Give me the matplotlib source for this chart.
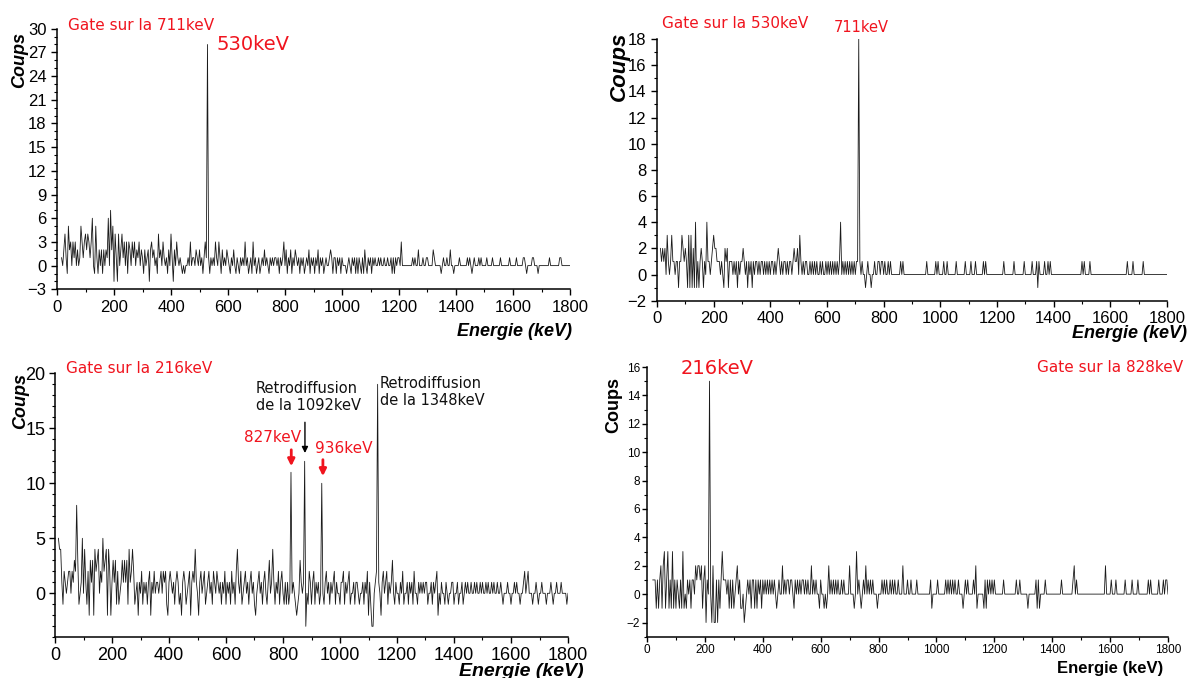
import numpy as np
import matplotlib
matplotlib.use("Agg")
import matplotlib.pyplot as plt
from matplotlib.ticker import MultipleLocator

plt.rcParams['font.family'] = ['Liberation Sans', 'DejaVu Sans']

STEP = 4  # keV per channel

# ---------------- Gate sur la 711keV (top left) ----------------
p1_start = 16
p1_dense = [
    1, 0, 2, 4, 1, -1, 5, 2, 3, 0, 3, 1, 3, 0, 2, 0, 1, 5, 3, 1, 3, 4, 2, 4, 3, 1, 3,      # 16-120
    6, 0, -1, 5, 1, -1, 2, 0, 2, -1, 2, 0, 2, 1, 6, 0, 7, 2, 5, -2, 4, 1, -2, 4, 0, 2, 4, 1, 3, 0,   # 124-240
    3, -1, 3, 2, 0, 3, 1, 3, 0, 2, 1, 3, 0, 2, 1, -1, 2, 0, 1, 2, -2, 2, 3, 1, 2, 0, 1, -1, 4, 1,   # 244-360
    2, 0, 3, 1, 0, 1, -1, 2, 0, 4, 1, -2, 2, 0, 3, 1, 0, 1, 0, -1, 0, -1, 0, 0, 1, 0, 3, 0, 1, 1,   # 364-480
    0, 2, 1, 0, 2, 0, 1, -1, 1, 3, 1, 28, 1, -1, 1, 0, 1, 0, 3, 1, 0, 3, 1, -1, 2, 0, 1, 0, 2, 1,   # 484-600
    0, -1, 1, 0, 2, 0, -1, 1, 0, -1, 1, 0, 1, 0, 3, 0, 1, -1, 0, 1, -1, 3, 0, 1, -1, 0, 1, -1, 0, 1,  # 604-720
    0, 2, 0, 1, 0, -1, 1, 0, 1, 0, 1, 1, 0, 1, -1, 1, 0, 1, 3, 0, 2, -1, 1, 0, 2, -1, 1, 0, 2, 1,   # 724-840
    0, 1, -1, 1, 0, 1, -1, 0, 1, 0, 2, -1, 1, 0, 1, -1, 1, 0, 2, -1, 1, 0, 1, -1, 0, 1, 0, 0, 1, 2,  # 844-960
    1, -1, 1, 1, -1, 1, 0, 1, -1, 1, 0, 0, 0, -1, 0, 1, 0, -1, 1, 0, 1, -1, 1, -1, 1, 0, -1, 1, -1, 2,  # 964-1080
    0, -1, 1, 0, 1, -1, 1, 0, 1, 0, 0, 1, 0, 1, 0, 0, 1, 0, 0, 1, 0, 0, 1, -1, 1, -1, 1, 0, 1, 1,   # 1084-1200
    0, 3, 0,                                                                                        # 1204-1212
]
p1_tail_kev = [1248, 1256, 1268, 1284, 1296, 1300, 1320, 1324, 1348, 1356, 1368, 1380, 1392, 1412,
               1440, 1448, 1456, 1464, 1480, 1488, 1508, 1528, 1556, 1588, 1612, 1636, 1640, 1648,
               1668, 1672, 1688, 1728, 1764, 1768]
p1_tail_cnt = [1, 1, 2, 1, 1, 1, 2, 1, -1, 1, 1, 2, -1, 1,
               1, 1, -1, 1, 1, 1, 1, 1, 1, 1, 1, 1, 1, -1,
               1, 1, -1, 1, 1, 1]

# ---------------- Gate sur la 530keV (top right) ----------------
p2_start = 12
p2_dense = [
    2, 1, 2, 1, 2, 0, 3, 1, 0, 1,      # 12-48
    3, 1, 1, 0, 1, 1, -1, 1, 1, 3,     # 52-88
    2, 1, 2, 1, -1, 3, -1, 3, -1, 2,   # 92-128
    -1, 4, -1, 1, -1, 1, 2, 1, -1, 1,  # 132-168
    0, 4, 1, 1, 0, 1, 2, 3, 2, 2,      # 172-208
    1, 1, 1, 0, 1, 0, -1, 2, 1, 2,     # 212-248
    -1, 1, 1, 1, 0, 1, 0, 1, -1, 1,    # 252-288
    0, 1, 1, 2, 1, 0, 1, -1, 1, 0,     # 292-328
    1, -1, 1, 0, 1, 1, 0, 1, 0, 1,     # 332-368
    1, 0, 1, 0, 1, 0, 1, 0, 1, 1,      # 372-408
    0, 1, 0, 1, 2, 1, 0, 1, 0, 1,      # 412-448
    1, 0, 1, 0, 1, 1, 0, 1, 2, 1,      # 452-488
    1, 2, 0, 3, 1, 0, 1, 0, 1, 1,      # 492-528
    0, 0, 1, 0, 1, 0, 1, 0, 1, 0,      # 532-568
    0, 1, 0, 1, 0, 0, 1, 0, 1, 0,      # 572-608
    1, 0, 1, 0, 1, 0, 1, 0, 1, 4,      # 612-648
    0, 1, 0, 1, 0, 1, 0, 1, 0, 1,      # 652-688
    0, 1, 0, 1, 1, 18, 1, 0, 1, 0,     # 692-728
    0, -1, 0, 1, 0, 0, -1, 0, 0, 1,    # 732-768
    0, 0, 1, 1, 0, 1, 1, 0, 1, 0,      # 772-808
    0, 1, 0, 1, 0, 0, 0, 0, 0, 0,      # 812-848
    0, 0, 1, 0, 1, 0, 0, 0,            # 852-880
]
p2_tail_kev = [952, 984, 992, 1012, 1024, 1056, 1088, 1108, 1124, 1152, 1160, 1224, 1260, 1296,
               1324, 1340, 1344, 1348, 1368, 1380, 1388, 1500, 1508, 1528, 1660, 1680, 1716]
p2_tail_cnt = [1, 1, 1, 1, 1, 1, 1, 1, 1, 1, 1, 1, 1, 1,
               1, 1, -1, 1, 1, 1, 1, 1, 1, 1, 1, 1, 1]

# ---------------- Gate sur la 216keV (bottom left) ----------------
p3_start = 12
p3_dense = [
    5, 4, 4, 1, -1, 2, 1, 0, 1, 2,       # 12-48
    2, 0, 2, 1, 3, 2, 8, 3, -1, 0,       # 52-88
    1, 5, 0, 4, 1, -1, 2, -2, 3, 1,      # 92-128
    3, -2, 4, 2, 3, 4, 0, 2, 1, 5,       # 132-168
    2, 3, 4, -2, 4, 2, -2, 1, 3, 1,      # 172-208
    3, -1, 2, -1, 0, 1, 3, 1, 3, 1,      # 212-248
    3, -1, 4, 1, 2, 4, 2, -1, 0, 1,      # 252-288
    -2, 1, 0, 2, -1, 1, 0, 1, -1, 1,     # 292-328
    2, -2, 1, 0, 2, 0, 1, 1, 0, 1,       # 332-368
    2, 0, 2, 1, 2, -1, -2, 1, 2, 1,      # 372-408
    0, 1, -1, 1, 2, 1, -1, 0, -2, 1,     # 412-448
    2, 1, -1, 0, 1, 2, -2, 1, 2, 1,      # 452-488
    4, 1, 0, -2, 1, 2, 0, 1, 2, -1,      # 492-528
    0, 1, 2, 0, 1, -1, 2, 1, 0, 2,       # 532-568
    1, 0, 1, -1, 1, 0, 2, -1, 1, 0,      # 572-608
    1, -1, 2, 0, 1, -1, 2, 4, 1, 0,      # 612-648
    2, -1, 0, 1, 2, 0, 1, -1, 1, 2,      # 652-688
    0, 1, -1, -2, 0, 1, 2, 0, 1, -1,     # 692-728
    1, 2, 0, -1, 1, 3, 0, 1, 4, 1,       # 732-768
    -1, 1, 0, 2, -1, 1, 2, 0, -1, 1,     # 772-808
    -1, 1, -1, 0, 11, 0, 1, 0, -1, -2,   # 812-848
    -1, 0, 3, 1, 0, 1, 12, -3, 0, -1,    # 852-888
    2, 1, -1, 1, 2, -1, 1, 0, 1, -1,     # 892-928
    0, 10, 0, -1, 1, 2, 0, 1, -1, 1,     # 932-968
    0, 1, 2, -1, 1, 0, 0, -1, 1, 1,      # 972-1008
    2, -1, 1, 0, 1, 2, -1, 0, 0, 1,      # 1012-1048
    -1, 1, 1, 0, -1, 0, 0, 1, -1, 1,     # 1052-1088
    0, 2, -2, 1, -1, -3, -3, 0, 1, 2,    # 1092-1128
    19, 1, 0, -2, 1, 2, 0, 1, 2, -1,     # 1132-1168
    1, 0, 1, 3, 0, -1, 1, 0, 0, -1,      # 1172-1208
    1, 0, 2, -1, 0, 0, 1, -1, 1, 0,      # 1212-1248
    1, -1, 2, 0, 0, -1, 1, 0, 1, 0,      # 1252-1288
    1, 0, 1, 1, -1, 0, 0, 1, -1, 1,      # 1292-1328
    0, 1, 2, -2, 0, -1, 1, 0, 0, -1,     # 1332-1368
    1, 0, -1, 0, 0, 1, 1, -1, 0, 0,      # 1372-1408
    1, -1, 0, 0, 1, -1, 0, 1, 0, 1,      # 1412-1448
]
p3_tail_kev = [1460, 1472, 1480, 1492, 1500, 1512, 1520, 1532, 1540, 1552, 1564,
               1572, 1588, 1600, 1612, 1620, 1632, 1644, 1648, 1656, 1660, 1676, 1688,
               1696, 1708, 1724, 1740, 1748, 1760, 1776, 1796]
p3_tail_cnt = [1, 1, 1, 1, 1, 1, 1, 1, 1, 1, 1,
               -1, 1, -1, 1, 1, -1, 1, 2, 1, 2, -1, 1,
               -1, 1, -1, 1, -1, 1, 1, -1]

# ---------------- Gate sur la 828keV (bottom right) ----------------
p4_start = 20
p4_dense = [
    1, 1, 1, -1, 1, -1, 1, 2, -1, 2,     # 20-56
    3, -1, 1, 3, -1, 1, -1, 3, -1, 1,    # 60-96
    -1, 1, 0, -1, 1, -1, 3, -1, 0, -1,   # 100-136
    1, 0, 1, -1, 1, 1, 0, 2, 1, 2,       # 140-176
    2, 1, 2, -1, 1, 2, -2, 1, 0, 15,     # 180-216
    0, -2, 2, -2, -2, 1, -2, 1, -1, 1,   # 220-256
    3, 1, 1, 1, 0, 1, -1, 1, -1, 1,      # 260-296
    -1, 0, 1, 2, 0, 1, -1, -1, 0, -2,    # 300-336
    -1, 0, 1, 0, 1, -1, 1, 1, -1, 1,     # 340-376
    -1, 1, 0, 1, -1, 1, 0, 1, 0, 1,      # 380-416
]
p4_tail_kev = [424, 432, 440, 448, 456, 468, 476, 484, 488, 496, 500, 508, 512, 520, 528, 536,
               540, 548, 556, 568, 576, 584, 596, 600, 612, 620, 628, 636, 644, 652, 660, 672,
               680, 700, 716, 724, 732, 740, 748, 756, 764, 772, 780, 796, 812, 820, 828, 840,
               848, 856, 868, 884, 900, 912, 932, 980, 984, 1004, 1032, 1040, 1048, 1056, 1064,
               1076, 1092, 1100, 1108, 1128, 1136, 1140, 1164, 1168, 1172, 1176, 1184, 1192, 1200,
               1232, 1276, 1288, 1316, 1344, 1348, 1352, 1356, 1376, 1432, 1472, 1476, 1484, 1584,
               1604, 1620, 1652, 1676, 1696, 1732, 1740, 1768, 1784, 1792, 1796]
p4_tail_cnt = [1, 1, 1, -1, 1, 2, 1, 1, 1, 1, 1, -1, 1, 1, 1, 1,
               1, 1, 1, 2, 1, 1, -1, 1, -1, -1, 2, 1, 1, 1, 1, 1,
               1, 2, -1, 3, 1, -1, 1, 2, 1, 1, 1, -1, 1, 1, 1, 1,
               1, 1, 1, 2, 1, 1, 1, 1, -1, 1, 1, 1, 1, 1, 1,
               1, -1, 1, 1, 1, 2, -1, -1, 1, -1, 1, 1, 1, 1,
               1, 1, 1, -1, 1, -1, 1, -1, 1, 1, 1, 2, 1, 2,
               1, 1, 1, 1, 1, 1, 1, 1, 1, 1, 1]


def spectrum(start, dense, tail_kev, tail_cnt):
    e = np.arange(start, 1800 + STEP, STEP)
    c = np.zeros(len(e))
    c[:len(dense)] = dense
    for k, n in zip(tail_kev, tail_cnt):
        c[int(round((k - start) / STEP))] = n
    return e, c


W, H = 1190, 678
fig = plt.figure(figsize=(W / 100, H / 100), dpi=100)
RED = '#f0141e'


def box(l, r, t, b):
    return [l / W, 1 - b / H, (r - l) / W, (b - t) / H]


def ftext(x, y, s, **kw):
    fig.text(x / W, 1 - y / H, s, **kw)


def style(ax, ylim, ymaj, size, pad, ticklen):
    ax.set_xlim(0, 1800)
    ax.set_ylim(*ylim)
    ax.patch.set_alpha(0)
    for s in ['top', 'right']:
        ax.spines[s].set_visible(False)
    for s in ['left', 'bottom']:
        ax.spines[s].set_linewidth(1.1)
    ax.xaxis.set_major_locator(MultipleLocator(200))
    ax.xaxis.set_minor_locator(MultipleLocator(100))
    ax.yaxis.set_major_locator(MultipleLocator(ymaj))
    ax.yaxis.set_minor_locator(MultipleLocator(1))
    ax.tick_params(which='major', direction='out', length=ticklen, width=1.0,
                   labelsize=size, pad=pad)
    ax.tick_params(which='minor', direction='out', length=ticklen * 0.6, width=0.8)


panels = [
    (box(57, 570, 28.7, 289.3), spectrum(p1_start, p1_dense, p1_tail_kev, p1_tail_cnt), (-3, 30), 3, 12, 3.5, 4),
    (box(657, 1167, 39, 300.7), spectrum(p2_start, p2_dense, p2_tail_kev, p2_tail_cnt), (-2, 18), 2, 12, 3.5, 4),
    (box(55, 568, 373.3, 637.3), spectrum(p3_start, p3_dense, p3_tail_kev, p3_tail_cnt), (-4, 20), 5, 13, 3, 4),
    (box(647, 1168, 367, 636.7), spectrum(p4_start, p4_dense, p4_tail_kev, p4_tail_cnt), (-3, 16), 2, 8.5, 1.5, 3.5),
]

axes = []
for pos, (e, c), ylim, ymaj, size, pad, tl in panels:
    ax = fig.add_axes(pos)
    ax.plot(e, c, color='#1a1a1a', lw=0.6)
    style(ax, ylim, ymaj, size, pad, tl)
    axes.append(ax)

ax1, ax2, ax3, ax4 = axes

# titles / peak labels
ftext(68, 25, 'Gate sur la 711keV', color=RED, family='DejaVu Sans', fontsize=11, va='center')
ftext(216, 45, '530keV', color=RED, family='DejaVu Sans', fontsize=14, va='center')
ftext(662, 24, 'Gate sur la 530keV', color=RED, family='DejaVu Sans', fontsize=11, va='center')
ftext(834, 27, '711keV', color=RED, family='DejaVu Sans', fontsize=10.5, va='center')
ftext(66, 369, 'Gate sur la 216keV', color=RED, family='DejaVu Sans', fontsize=11, va='center')
ftext(681, 368, '216keV', color=RED, family='DejaVu Sans', fontsize=14, va='center')
ftext(1183, 367, 'Gate sur la 828keV', color=RED, family='DejaVu Sans', fontsize=11, va='center', ha='right')

# axis labels
ftext(20, 60, 'Coups', fontsize=13, weight='bold', style='italic', rotation=90, ha='center', va='center')
ftext(572, 331, 'Energie (keV)', fontsize=13, weight='bold', style='italic', ha='right', va='center')
ftext(619, 66, 'Coups', fontsize=16, weight='bold', style='italic', rotation=90, ha='center', va='center')
ftext(1187, 333, 'Energie (keV)', fontsize=13, weight='bold', style='italic', ha='right', va='center')
ftext(21, 401, 'Coups', fontsize=13, weight='bold', style='italic', rotation=90, ha='center', va='center')
ftext(584, 671, 'Energie (keV)', fontsize=14, weight='bold', style='italic', ha='right', va='center')
ftext(614, 405, 'Coups', fontsize=13, weight='bold', rotation=90, ha='center', va='center')
ftext(1163, 669, 'Energie (keV)', fontsize=12, weight='bold', ha='right', va='center')

# annotations on the 216keV gate
ax3.text(705, 19.3, 'Retrodiffusion\nde la 1092keV', fontsize=10.5, family='DejaVu Sans',
         va='top', ha='left', color='#111111')
ax3.text(1140, 19.8, 'Retrodiffusion\nde la 1348keV', fontsize=10.5, family='DejaVu Sans',
         va='top', ha='left', color='#111111')
ax3.annotate('', xy=(877, 12.5), xytext=(877, 15.8),
             arrowprops=dict(arrowstyle='-|>', color='black', lw=1.0, mutation_scale=9))
ax3.text(663, 14.2, '827keV', fontsize=11, family='DejaVu Sans', color=RED, va='center', ha='left')
ax3.annotate('', xy=(829, 11.3), xytext=(829, 13.3),
             arrowprops=dict(arrowstyle='-|>', color=RED, lw=2.0, mutation_scale=10))
ax3.text(912, 13.2, '936keV', fontsize=11, family='DejaVu Sans', color=RED, va='center', ha='left')
ax3.annotate('', xy=(940, 10.4), xytext=(940, 12.4),
             arrowprops=dict(arrowstyle='-|>', color=RED, lw=2.0, mutation_scale=10))

fig.savefig('out.png', dpi=100)
